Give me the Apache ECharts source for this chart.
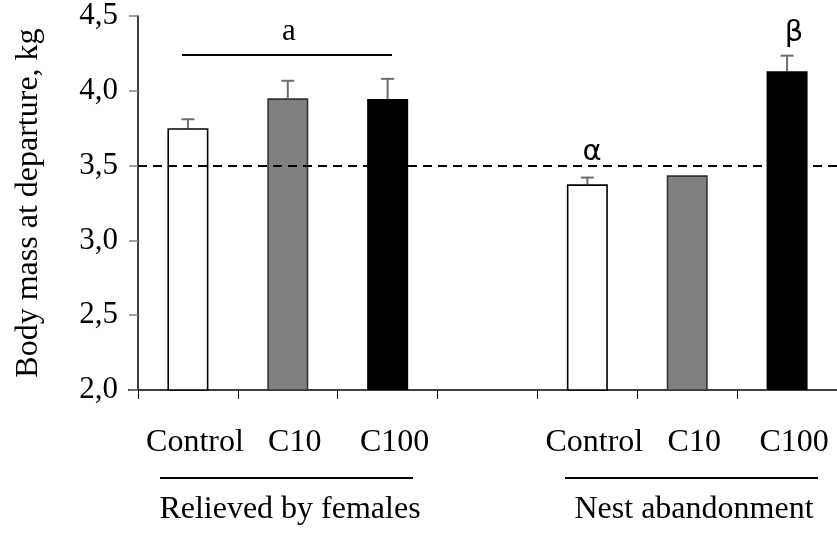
<!DOCTYPE html>
<html>
<head>
<meta charset="utf-8">
<script src="https://cdn.jsdelivr.net/npm/echarts@6/dist/echarts.min.js"></script>
<style>
html,body{margin:0;padding:0;background:#fff;}
#chart{width:837px;height:533px;}
</style>
</head>
<body>
<div id="chart"></div>
<script>
// ---- data ----
var categories = ['Control', 'C10', 'C100', '', 'Control', 'C10', 'C100'];
var treatment = [0, 1, 2, -1, 0, 1, 2];
var meanMass = [3.75, 3.95, 3.945, null, 3.375, 3.435, 4.13];
var upperError = [3.81, 4.067, 4.08, null, 3.42, null, 4.235];
var yTickValues = [2.0, 2.5, 3.0, 3.5, 4.0, 4.5];
var yTickLabels = ['2,0', '2,5', '3,0', '3,5', '4,0', '4,5'];
var groupNames = ['Relieved by females', 'Nest abandonment'];
var referenceLine = 3.5;
var yName = 'Body mass at departure, kg';

// ---- styles ----
var fills = ['#ffffff', '#808080', '#000000'];
var borders = ['#000000', '#333333', '#000000'];
var borderW = [1.6, 1.6, 0];
var serif = '"Liberation Serif", "Times New Roman", serif';

var chart = echarts.init(document.getElementById('chart'), null, {renderer: 'canvas'});

var barData = meanMass.map(function (v, i) {
  if (v === null) return null;
  var t = treatment[i];
  return {value: v, itemStyle: {color: fills[t], borderColor: borders[t], borderWidth: borderW[t]}};
});
var errData = [];
meanMass.forEach(function (v, i) {
  if (v !== null && upperError[i] !== null) errData.push([i, v, upperError[i]]);
});

var option = {
  backgroundColor: '#fff',
  animation: false,
  grid: {left: 138, right: -5, top: 16, bottom: 143},
  xAxis: {
    type: 'category',
    data: categories,
    axisLine: {lineStyle: {color: '#000', width: 1.5}},
    axisTick: {show: true, length: 9, lineStyle: {color: '#000', width: 1}},
    axisLabel: {
      color: '#000', fontFamily: serif, fontSize: 32, margin: 37,
      padding: [0, 0, 0, 14], interval: 0
    },
    splitLine: {show: false}
  },
  yAxis: {
    type: 'value',
    min: 2.0, max: 4.5, interval: 0.5,
    name: yName,
    nameLocation: 'middle',
    nameGap: 93,
    nameTextStyle: {color: '#000', fontFamily: serif, fontSize: 32},
    axisLine: {show: true, lineStyle: {color: '#000', width: 1.5}},
    axisTick: {show: true, inside: false, length: 9, lineStyle: {color: '#808080', width: 1.5}},
    axisLabel: {
      color: '#000', fontFamily: serif, fontSize: 31, margin: 20,
      formatter: function (v) {
        var k = yTickValues.findIndex(function (t) { return Math.abs(t - v) < 1e-9; });
        return k >= 0 ? yTickLabels[k] : '';
      }
    },
    splitLine: {show: false}
  },
  series: [
    {
      type: 'bar',
      data: barData,
      barWidth: 41,
      markLine: {
        silent: true,
        symbol: ['none', 'none'],
        label: {show: false},
        lineStyle: {color: '#000', type: [9, 6], width: 2},
        data: [{yAxis: referenceLine}]
      }
    },
    {
      type: 'custom',
      data: errData,
      z: 1,
      renderItem: function (params, api) {
        var x = api.coord([api.value(0), api.value(1)]);
        var top = api.coord([api.value(0), api.value(2)]);
        return {
          type: 'group',
          children: [
            {type: 'line', shape: {x1: x[0], y1: x[1], x2: x[0], y2: top[1]},
             style: {stroke: '#6e6e6e', lineWidth: 2}},
            {type: 'line', shape: {x1: x[0] - 6.5, y1: top[1], x2: x[0] + 6.5, y2: top[1]},
             style: {stroke: '#6e6e6e', lineWidth: 2}}
          ]
        };
      }
    }
  ],
  graphic: [
    // significance bracket "a"
    {type: 'line', shape: {x1: 182, y1: 55, x2: 392, y2: 55}, style: {stroke: '#000', lineWidth: 2}},
    {type: 'text', x: 289, y: 32, style: {text: 'a', font: '31px ' + serif, fill: '#000', textAlign: 'center', textVerticalAlign: 'middle'}},
    {type: 'text', x: 592, y: 152, style: {text: 'α', font: '29px "DejaVu Sans", sans-serif', fill: '#000', textAlign: 'center', textVerticalAlign: 'middle'}},
    {type: 'text', x: 794, y: 33, style: {text: 'β', font: '29px "DejaVu Sans", sans-serif', fill: '#000', textAlign: 'center', textVerticalAlign: 'middle'}},
    // group labels
    {type: 'line', shape: {x1: 160, y1: 478, x2: 413, y2: 478}, style: {stroke: '#000', lineWidth: 2}},
    {type: 'line', shape: {x1: 565, y1: 478, x2: 818, y2: 478}, style: {stroke: '#000', lineWidth: 2}},
    {type: 'text', x: 290, y: 510, style: {text: groupNames[0], font: '32px ' + serif, fill: '#000', textAlign: 'center', textVerticalAlign: 'middle'}},
    {type: 'text', x: 694, y: 510, style: {text: groupNames[1], font: '32px ' + serif, fill: '#000', textAlign: 'center', textVerticalAlign: 'middle'}},
    // left extension of the baseline
    {type: 'line', shape: {x1: 128, y1: 390, x2: 138, y2: 390}, style: {stroke: '#000', lineWidth: 1.5}}
  ]
};
chart.setOption(option);
</script>
</body>
</html>
